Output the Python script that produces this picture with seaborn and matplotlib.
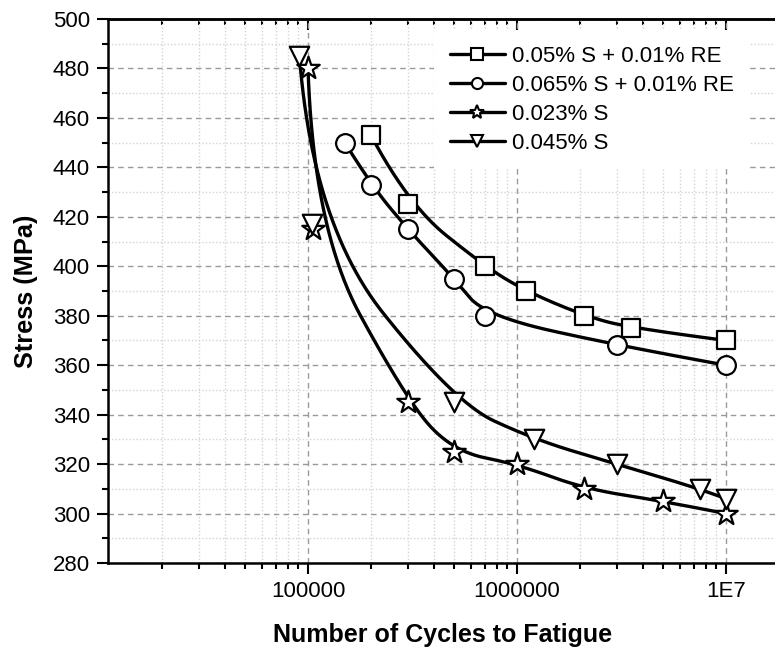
import numpy as np
import pandas as pd
import matplotlib
matplotlib.use("Agg")
import matplotlib.pyplot as plt
from matplotlib.lines import Line2D
from matplotlib.ticker import FixedLocator, FixedFormatter, LogLocator, MultipleLocator, NullFormatter
import seaborn as sns

# ---------------- data ----------------
labels = ["0.05% S + 0.01% RE", "0.065% S + 0.01% RE", "0.023% S", "0.045% S"]

sq_cycles = [2.0e5, 3.0e5, 7.0e5, 1.1e6, 2.1e6, 3.5e6, 1.0e7]
sq_stress = [453, 425, 400, 390, 380, 375, 370]

ci_cycles = [1.5e5, 2.0e5, 3.0e5, 5.0e5, 7.0e5, 3.0e6, 1.0e7]
ci_stress = [450, 433, 415, 395, 380, 368, 360]

st_cycles = [1.0e5, 1.06e5, 3.0e5, 5.0e5, 1.0e6, 2.1e6, 5.0e6, 1.0e7]
st_stress = [480, 415, 345, 325, 320, 310, 305, 300]

tr_cycles = [9.1e4, 1.05e5, 5.0e5, 1.2e6, 3.0e6, 7.5e6, 1.0e7]
tr_stress = [485, 417, 345, 330, 320, 310, 306]

xtick_values = [1e5, 1e6, 1e7]
xtick_labels = ["100000", "1000000", "1E7"]
xlabel = "Number of Cycles to Fatigue"
ylabel = "Stress (MPa)"

series = [
    (labels[0], sq_cycles, sq_stress, "s"),
    (labels[1], ci_cycles, ci_stress, "o"),
    (labels[2], st_cycles, st_stress, "*"),
    (labels[3], tr_cycles, tr_stress, "v"),
]


def bspline(cx, cy, k=2, n=400):
    """Clamped B-spline using the data points as control points (log-x)."""
    P = np.column_stack([np.log10(cx), cy]).astype(float)
    m = len(P)
    k = min(k, m - 1)
    inner = np.linspace(0, 1, m - k + 1)
    t = np.concatenate([np.zeros(k), inner, np.ones(k)])
    u = np.linspace(0, 1, n)
    nb = len(t) - 1
    N = np.zeros((n, nb))
    for i in range(nb):
        N[:, i] = ((u >= t[i]) & (u < t[i + 1])).astype(float)
        if t[i] < t[i + 1] and t[i + 1] == 1.0:
            N[u == 1.0, i] = 1.0
    for d in range(1, k + 1):
        for i in range(nb - d):
            den1 = t[i + d] - t[i]
            den2 = t[i + d + 1] - t[i + 1]
            a = (u - t[i]) / den1 if den1 > 0 else 0.0
            b = (t[i + d + 1] - u) / den2 if den2 > 0 else 0.0
            N[:, i] = a * N[:, i] + b * N[:, i + 1]
    C = N[:, :m] @ P
    return 10 ** C[:, 0], C[:, 1]


# ---------------- style ----------------
sns.set_style("white")
plt.rcParams["font.family"] = ["Liberation Sans", "DejaVu Sans"]
plt.rcParams["text.color"] = "black"
plt.rcParams["axes.labelcolor"] = "black"
plt.rcParams["xtick.color"] = "black"
plt.rcParams["ytick.color"] = "black"

W, H = 775, 648
fig = plt.figure(figsize=(W / 100, H / 100), dpi=100)
ax = fig.add_axes([108 / W, 1 - 563 / H, (777 - 108) / W, (563 - 19) / H])

ax.set_xscale("log")

msizes = {"s": 12.5, "o": 13.5, "*": 17, "v": 14}
for name, xs, ys, mk in series:
    bx, by = bspline(xs, ys)
    sns.lineplot(x=bx, y=by, ax=ax, color="black", linewidth=2.4, sort=False,
                 estimator=None, zorder=3)
    sns.scatterplot(x=xs, y=ys, ax=ax, marker=mk, s=msizes[mk] ** 2,
                    facecolor="white", edgecolor="black", linewidth=1.6, zorder=4)

ax.set_xlim(1.104e4, 1.754e7)
ax.set_ylim(280, 500)

# ticks
ax.xaxis.set_major_locator(FixedLocator(xtick_values))
ax.xaxis.set_major_formatter(FixedFormatter(xtick_labels))
ax.xaxis.set_minor_locator(LogLocator(base=10, subs=np.arange(2, 10)))
ax.xaxis.set_minor_formatter(NullFormatter())
ax.yaxis.set_major_locator(MultipleLocator(20))
ax.yaxis.set_minor_locator(MultipleLocator(10))

ax.tick_params(axis="both", which="major", labelsize=16, length=8, width=1.5,
               color="black", labelcolor="black", pad=5)
ax.tick_params(axis="both", which="minor", length=4.5, width=1.5, color="black")
ax.tick_params(axis="x", which="both", bottom=True, top=False, direction="out")
ax.tick_params(axis="y", which="both", left=True, right=False, direction="out")

# grid
ax.grid(True, which="major", color="#9a9a9a", linestyle=(0, (4, 3)), linewidth=1.0, zorder=0)
ax.grid(True, which="minor", color="#d4d4d4", linestyle=(0, (1, 1.5)), linewidth=1.0, zorder=0)
ax.set_axisbelow(True)

for side in ["left", "bottom", "top"]:
    ax.spines[side].set_visible(True)
    ax.spines[side].set_color("black")
    ax.spines[side].set_linewidth(1.8)
ax.spines["right"].set_visible(False)

ax.set_xlabel(xlabel, fontsize=18, fontweight="bold", labelpad=15, color="black")
ax.set_ylabel(ylabel, fontsize=18.3, fontweight="bold", labelpad=11, color="black")

# top ticks pointing inward
sec = ax.secondary_xaxis("top")
sec.xaxis.set_major_locator(FixedLocator(xtick_values))
sec.xaxis.set_minor_locator(LogLocator(base=10, subs=np.arange(2, 10)))
sec.xaxis.set_major_formatter(NullFormatter())
sec.xaxis.set_minor_formatter(NullFormatter())
sec.tick_params(which="major", direction="in", length=8, width=1.5, color="black")
sec.tick_params(which="minor", direction="in", length=4.5, width=1.5, color="black")
sec.spines["top"].set_linewidth(1.8)
sec.spines["top"].set_color("black")

# legend
handles = [Line2D([], [], color="black", linewidth=2.4, marker=mk, markersize=8 if mk != "*" else 10,
                  markerfacecolor="white", markeredgecolor="black", markeredgewidth=1.5)
           for _, _, _, mk in series]
leg = ax.legend(handles, labels, loc="upper left", bbox_to_anchor=(434 / W, 1 - 30 / H),
                bbox_transform=fig.transFigure, fontsize=16, frameon=True, fancybox=False,
                handlelength=2.5, handletextpad=0.3, labelspacing=0.36, borderpad=0.7,
                borderaxespad=0)
leg.get_frame().set_facecolor("white")
leg.get_frame().set_edgecolor("none")
leg.get_frame().set_alpha(1)
leg.set_zorder(5)

fig.savefig("out.png", dpi=100)
